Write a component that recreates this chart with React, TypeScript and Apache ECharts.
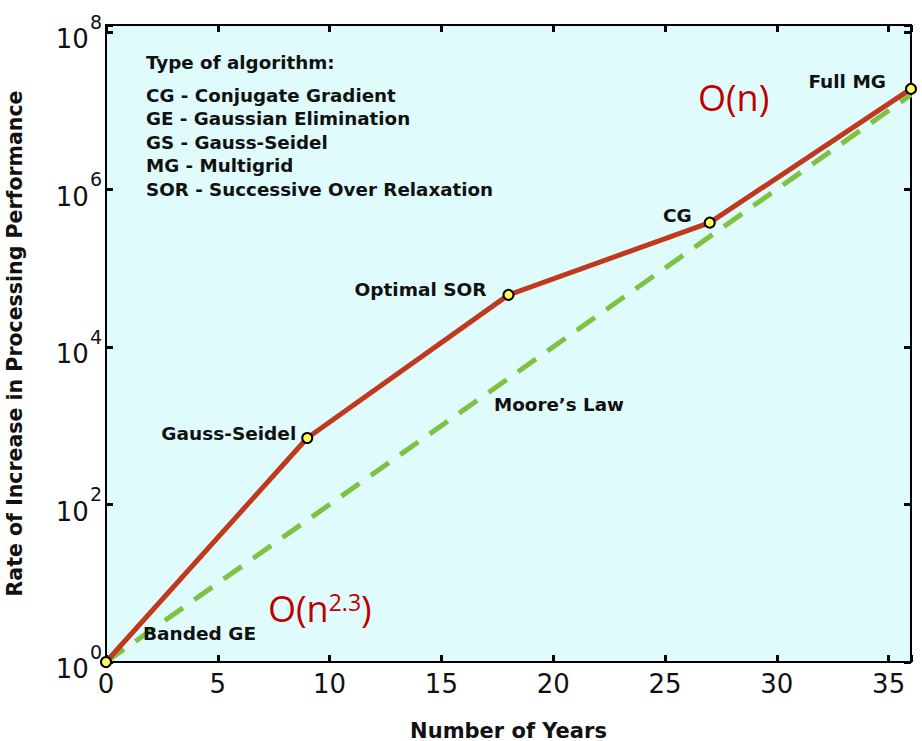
import React, { useEffect, useRef } from "react";
import * as echarts from "echarts";

// ---- data ----
const pointNames = ["Banded GE", "Gauss-Seidel", "Optimal SOR", "CG", "Full MG"];
const pointYears = [0, 9, 18, 27, 36];
const pointPerf = [1, 700, 46000, 380000, 19000000];

const mooreYears = [0, 36];
const moorePerf = [1, 16000000];

const xTicks = [0, 5, 10, 15, 20, 25, 30, 35];
const yTickExponents = [0, 2, 4, 6, 8];

const legendTitle = "Type of algorithm:";
const legendLines = [
  "CG - Conjugate Gradient",
  "GE - Gaussian Elimination",
  "GS - Gauss-Seidel",
  "MG - Multigrid",
  "SOR - Successive Over Relaxation",
];

const xTitle = "Number of Years";
const yTitle = "Rate of Increase in Processing Performance";

// label placement per point (style only)
const labelPlacement: Array<{ align: string; offset: [number, number] }> = [
  { align: "left", offset: [37, -29] },
  { align: "right", offset: [-11, -4] },
  { align: "right", offset: [-22, -5] },
  { align: "right", offset: [-18, -7] },
  { align: "right", offset: [-25, -7] },
];

const FAMILY = "'DejaVu Sans'";
const BOLD = "bold 18.3px 'DejaVu Sans'";
const RED = "#c0391f";
const GREEN = "#7dc242";
const BG = "#e0fbfb";

export default function App() {
  const ref = useRef<HTMLDivElement>(null);
  useEffect(() => {
    if (!ref.current) return;
    const chart = echarts.init(ref.current, undefined, { renderer: "svg" });

    // y axis is drawn on log10 scale (decades)
    const yMaxExp = 8.09;
    const lg = (v: number) => Math.log10(v);

    const isTickX = (v: number) => xTicks.indexOf(v) >= 0;
    const isTickY = (e: number) =>
      Math.abs(e - Math.round(e)) < 1e-6 && yTickExponents.indexOf(Math.round(e)) >= 0;

    const commonX = {
      type: "value",
      min: 0,
      max: 36,
      interval: 5,
      splitLine: { show: false },
      axisLine: { show: true, onZero: false, lineStyle: { color: "#000", width: 2 } },
      axisTick: { show: true, inside: true, length: 7, lineStyle: { color: "#000", width: 3 } },
    };
    const commonY = {
      type: "value",
      min: 0,
      max: yMaxExp,
      interval: 2,
      splitLine: { show: false },
      axisLine: { show: true, onZero: false, lineStyle: { color: "#000", width: 2 } },
      axisTick: { show: true, inside: true, length: 7, lineStyle: { color: "#000", width: 3 } },
    };

    const legendTexts: any[] = [
      {
        type: "text",
        x: 146,
        y: 62,
        style: { text: legendTitle, font: BOLD, fill: "#111", textVerticalAlign: "middle" },
      },
      ...legendLines.map((t, i) => ({
        type: "text",
        x: 146,
        y: 95 + i * 23.5,
        style: { text: t, font: BOLD, fill: "#111", textVerticalAlign: "middle" },
      })),
    ];

    const option: any = {
      animation: false,
      backgroundColor: "#fff",
      grid: {
        left: 106,
        right: 11,
        top: 25,
        bottom: 79,
        containLabel: false,
        outerBoundsMode: "none",
        show: true,
        backgroundColor: BG,
        borderWidth: 0,
      },
      xAxis: [
        {
          ...commonX,
          position: "bottom",
          name: xTitle,
          nameLocation: "middle",
          nameGap: 58,
          nameTextStyle: { fontSize: 21, fontWeight: "bold", fontFamily: FAMILY, color: "#111" },
          axisLabel: {
            show: true,
            margin: 9,
            color: "#111",
            fontSize: 26,
            fontFamily: FAMILY,
            formatter: (v: number) => (isTickX(v) ? String(v) : ""),
          },
        },
        {
          ...commonX,
          position: "top",
          axisLabel: { show: false },
        },
      ],
      yAxis: [
        {
          ...commonY,
          position: "left",
          name: yTitle,
          nameLocation: "middle",
          nameRotate: 90,
          nameGap: 81,
          nameTextStyle: { fontSize: 20.5, fontWeight: "bold", fontFamily: FAMILY, color: "#111" },
          axisLabel: {
            show: true,
            margin: 4,
            color: "#111",
            formatter: (e: number) => (isTickY(e) ? `{b|10}{s|${Math.round(e)}}` : ""),
            rich: {
              b: { fontSize: 26, fontFamily: FAMILY, color: "#111", padding: [14, 0, 0, 0] },
              s: { fontSize: 19, fontFamily: FAMILY, color: "#111", verticalAlign: "top", padding: [0, 0, 0, 1] },
            },
          },
        },
        {
          ...commonY,
          position: "right",
          axisLabel: { show: false },
        },
      ],
      graphic: [
        ...legendTexts,
        {
          type: "text",
          x: 559,
          y: 404,
          style: { text: "Moore’s Law", font: BOLD, fill: "#111", textAlign: "center", textVerticalAlign: "middle" },
        },
        {
          type: "text",
          x: 698,
          y: 97,
          style: { text: "O(n)", font: "36px 'Open Sans'", fill: "#c00000", textVerticalAlign: "middle" },
        },
        {
          type: "text",
          x: 268,
          y: 608,
          style: {
            text: "{a|O(n}{s|2.3}{a|)}",
            textVerticalAlign: "middle",
            rich: {
              a: { font: "36px 'Open Sans'", fill: "#c00000" },
              s: { font: "23px 'Open Sans'", fill: "#c00000", verticalAlign: "top" },
            },
          },
        },
      ],
      series: [
        {
          type: "line",
          name: "Moore's Law",
          xAxisIndex: 0,
          yAxisIndex: 0,
          data: mooreYears.map((x, i) => [x, lg(moorePerf[i])]),
          showSymbol: false,
          symbol: "none",
          lineStyle: { color: GREEN, width: 5, type: [22, 14] },
          z: 2,
        },
        {
          type: "line",
          name: "Algorithms",
          xAxisIndex: 0,
          yAxisIndex: 0,
          data: pointYears.map((x, i) => ({
            value: [x, lg(pointPerf[i])],
            name: pointNames[i],
            label: {
              show: true,
              position: "inside",
              align: labelPlacement[i].align,
              verticalAlign: "middle",
              offset: labelPlacement[i].offset,
              formatter: "{b}",
              fontSize: 18.5,
              fontWeight: "bold",
              fontFamily: FAMILY,
              color: "#111",
            },
          })),
          symbol: "circle",
          symbolSize: 10,
          showAllSymbol: true,
          itemStyle: { color: "#ffff55", borderColor: "#000", borderWidth: 2 },
          lineStyle: { color: RED, width: 5 },
          z: 3,
        },
      ],
    };
    chart.setOption(option);
    return () => chart.dispose();
  }, []);
  return (
    <div
      ref={ref}
      style={{ position: "fixed", left: 0, top: 0, width: 922, height: 741, background: "#fff" }}
    />
  );
}
